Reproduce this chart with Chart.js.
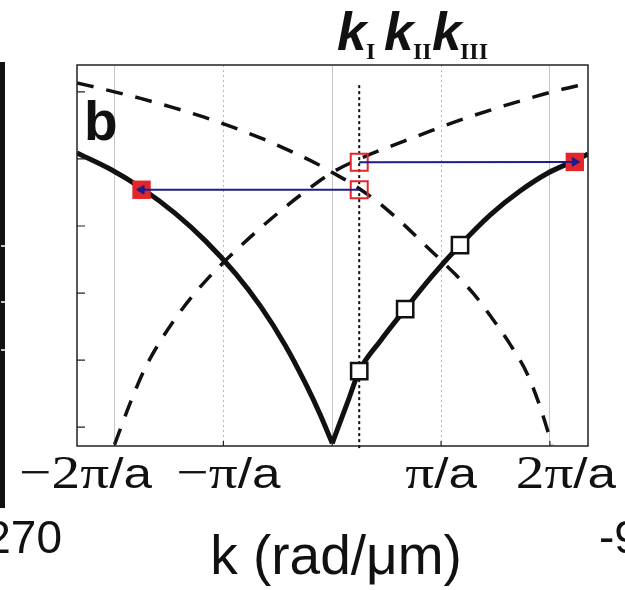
<!DOCTYPE html>
<html lang="en">
<head>
    <meta charset="UTF-8">
    <title>Dispersion, panel b</title>
    <script src="https://cdn.jsdelivr.net/npm/chart.js@4"></script>
    <style>
        body {
            margin: 0;
            background: #fff;
        }

        .wrap {
            position: relative;
            width: 625px;
            height: 590px;
        }
    </style>
</head>
<body>
    <div class="wrap">
        <canvas id="dispersion"></canvas>
    </div>

    <script>
        // k in units of pi/a, frequency in arbitrary units (y axis has no labels)
        const xTickValues = [-2, -1, 0, 1, 2];
        const xTickLabels = ['\u22122\u03c0/a', '\u2212\u03c0/a', '', '\u03c0/a', '2\u03c0/a'];
        const yTicks = [1, 2, 3, 4, 5, 6];

        // solid branch
        const kSolidLeft = [-2.345, -2.037, -1.752, -1.440, -1.165, -0.890, -0.661, -0.431, -0.248, -0.110, 0];
        const wSolidLeft = [5.089, 4.845, 4.563, 4.184, 3.778, 3.293, 2.808, 2.220, 1.660, 1.186, 0.76];
        const kSolidRight = [0, 0.138, 0.248, 0.440, 0.670, 0.917, 1.174, 1.450, 1.725, 1.982, 2.229, 2.35];
        const wSolidRight = [0.76, 1.358, 1.835, 2.283, 2.760, 3.253, 3.716, 4.163, 4.521, 4.790, 4.975, 5.074];

        // dashed branches
        const kDashA = [-2.345, -2.055, -1.761, -1.468, -1.183, -0.908, -0.624, -0.358, -0.138, 0, 0.183, 0.431, 0.642, 0.844, 1.092, 1.294, 1.468, 1.633, 1.789, 1.908, 2.018];
        const wDashA = [6.133, 6.021, 5.902, 5.768, 5.626, 5.469, 5.290, 5.096, 4.924, 4.798, 4.626, 4.342, 4.044, 3.730, 3.342, 2.999, 2.626, 2.238, 1.805, 1.313, 0.74];
        const kDashB = [-2.0, -1.853, -1.716, -1.560, -1.376, -1.165, -0.890, -0.569, -0.248, 0, 0.312, 0.642, 0.917, 1.193, 1.486, 1.761, 2.055, 2.35];
        const wDashB = [0.74, 1.375, 1.890, 2.334, 2.767, 3.179, 3.627, 4.097, 4.515, 4.798, 5.044, 5.253, 5.424, 5.589, 5.745, 5.880, 6.014, 6.126];

        // markers
        const kOpenBlack = [0.248, 0.670, 1.174];
        const wOpenBlack = [1.835, 2.760, 3.716];
        const kRedOpen = [0.248, 0.248];
        const wRedOpen = [4.54, 4.95];
        const kRedFilled = [-1.752, 2.229];
        const wRedFilled = [4.54, 4.955];
        const kProbe = [0.248, 0.248];
        const wProbe = [6.10, 0.68];

        const pts = (ks, ws) => ks.map((k, i) => ({ x: k, y: ws[i] }));

        const navy = '#1c1c8c';
        const red = '#e3262b';

        function arrow(i) {
            return {
                data: [{ x: kRedOpen[i], y: wRedOpen[i] }, { x: kRedFilled[i], y: wRedFilled[i] }],
                showLine: true,
                borderColor: navy,
                borderWidth: 2,
                backgroundColor: navy,
                pointStyle: 'triangle',
                pointRotation: kRedFilled[i] < kRedOpen[i] ? -90 : 90,
                pointRadius: [0, 5],
                pointBorderWidth: 1,
                tension: 0
            };
        }

        function curve(data, width, dash) {
            return {
                data: data,
                showLine: true,
                borderColor: '#111',
                borderWidth: width,
                borderDash: dash,
                pointRadius: 0,
                cubicInterpolationMode: 'monotone'
            };
        }

        // "-2π" in a serif face, "/a" in a sans face, the whole label a bit wide
        function mixedLabel(ctx, text, cx, base) {
            const cut = text.indexOf('/');
            const parts = [
                { t: text.slice(0, cut), f: '47px "Liberation Serif"' },
                { t: text.slice(cut), f: '42px "Liberation Sans"' }
            ];
            let w = 0;
            parts.forEach(p => { ctx.font = p.f; p.w = ctx.measureText(p.t).width; w += p.w; });
            ctx.save();
            ctx.translate(cx, base);
            ctx.scale(1.22, 1);
            let px = -w / 2;
            parts.forEach(p => { ctx.font = p.f; ctx.fillText(p.t, px, 0); px += p.w; });
            ctx.restore();
        }

        const labelShift = [-29, 5, 0, 0, 16];

        const panelDecor = {
            id: 'panelDecor',
            afterDraw(chart) {
                const { ctx, chartArea: a, scales: { x, y } } = chart;
                ctx.save();

                // frame and inward ticks
                ctx.strokeStyle = '#222';
                ctx.lineWidth = 1.5;
                ctx.strokeRect(a.left, a.top, a.right - a.left, a.bottom - a.top);
                ctx.lineWidth = 1.2;
                ctx.beginPath();
                yTicks.forEach(v => {
                    const py = y.getPixelForValue(v);
                    ctx.moveTo(a.left, py);
                    ctx.lineTo(a.left + 8, py);
                });
                xTickValues.forEach(v => {
                    const px = x.getPixelForValue(v);
                    ctx.moveTo(px, a.bottom);
                    ctx.lineTo(px, a.bottom - 5);
                });
                ctx.stroke();

                ctx.fillStyle = '#111';
                ctx.textAlign = 'left';
                ctx.textBaseline = 'alphabetic';

                // tick labels
                xTickValues.forEach((v, i) => {
                    if (!xTickLabels[i]) return;
                    mixedLabel(ctx, xTickLabels[i], x.getPixelForValue(v) + labelShift[i], 488);
                });

                // axis title
                ctx.font = '55px "Liberation Sans"';
                ctx.textAlign = 'center';
                ctx.fillText('k (rad/\u03bcm)', 336, 574);

                // panel letter
                ctx.textAlign = 'left';
                ctx.font = 'bold 55px "Liberation Sans"';
                ctx.fillText('b', 84, 140);

                // k_I k_II k_III
                const kFont = 'italic bold 53px "Liberation Sans"';
                const subFont = 'bold 24px "Liberation Serif"';
                [['I', 337, 366], ['II', 384, 413], ['III', 432, 460]].forEach(([sub, kx, sx]) => {
                    ctx.font = kFont;
                    ctx.fillText('k', kx, 50);
                    ctx.font = subFont;
                    ctx.fillText(sub, sx, 59);
                });

                // pieces of the neighbouring panels
                ctx.fillRect(0, 62, 5, 446);
                ctx.strokeStyle = '#fff';
                ctx.lineWidth = 1.5;
                ctx.beginPath();
                [246, 302, 350].forEach(py => { ctx.moveTo(1, py); ctx.lineTo(5, py); });
                ctx.stroke();
                ctx.font = '46px "Liberation Sans"';
                ctx.textAlign = 'right';
                ctx.fillText('270', 62, 553);
                ctx.textAlign = 'left';
                ctx.fillText('-9', 599, 553);

                ctx.restore();
            }
        };

        new Chart(document.getElementById('dispersion'), {
            type: 'scatter',
            data: {
                datasets: [
                    arrow(0),
                    arrow(1),
                    {
                        data: pts(kRedFilled, wRedFilled),
                        pointStyle: 'rect',
                        pointRadius: 13,
                        backgroundColor: red,
                        borderColor: red,
                        pointBorderWidth: 0
                    },
                    {
                        data: pts(kRedOpen, wRedOpen),
                        pointStyle: 'rect',
                        pointRadius: 12,
                        backgroundColor: 'rgba(0,0,0,0)',
                        borderColor: red,
                        pointBorderWidth: 2
                    },
                    {
                        data: pts(kOpenBlack, wOpenBlack),
                        pointStyle: 'rect',
                        pointRadius: 11.5,
                        backgroundColor: '#fff',
                        borderColor: '#111',
                        pointBorderWidth: 2.5
                    },
                    curve(pts(kSolidLeft, wSolidLeft), 5, []),
                    curve(pts(kSolidRight, wSolidRight), 5, []),
                    curve(pts(kDashA, wDashA), 3.5, [17, 13]),
                    curve(pts(kDashB, wDashB), 3.5, [17, 13]),
                    {
                        data: pts(kProbe, wProbe),
                        showLine: true,
                        borderColor: '#111',
                        borderWidth: 2,
                        borderDash: [3, 3],
                        pointRadius: 0,
                        clip: false
                    }
                ]
            },
            options: {
                responsive: true,
                maintainAspectRatio: false,
                animation: false,
                layout: {
                    padding: { left: 77, top: 65, right: 37, bottom: 144 }
                },
                plugins: {
                    legend: { display: false },
                    tooltip: { enabled: false }
                },
                scales: {
                    x: {
                        type: 'linear',
                        min: -2.345,
                        max: 2.35,
                        afterBuildTicks: s => { s.ticks = xTickValues.map(v => ({ value: v })); },
                        ticks: { display: false },
                        grid: {
                            drawTicks: false,
                            lineWidth: 1,
                            color: c => (c.tick && Math.abs(c.tick.value) === 1 ? '#b8b8b8' : '#c6c6c6')
                        },
                        border: {
                            display: false,
                            dash: c => (c.tick && Math.abs(c.tick.value) === 1 ? [2, 3] : [])
                        }
                    },
                    y: {
                        type: 'linear',
                        min: 0.72,
                        max: 6.40,
                        display: false
                    }
                }
            },
            plugins: [panelDecor]
        });
    </script>
</body>
</html>
